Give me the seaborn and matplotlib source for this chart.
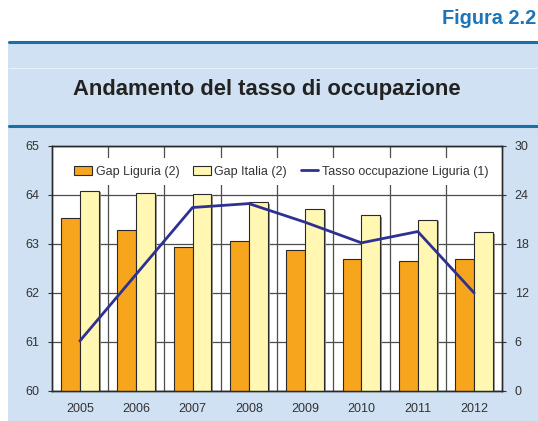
import numpy as np
import pandas as pd
import seaborn as sns
import matplotlib.pyplot as plt
import matplotlib.patheffects as pe
from matplotlib.patches import Patch, Rectangle
from matplotlib.lines import Line2D

anni = ["2005", "2006", "2007", "2008", "2009", "2010", "2011", "2012"]
gap_liguria = [21.2, 19.7, 17.6, 18.3, 17.3, 16.1, 15.9, 16.2]
gap_italia = [24.5, 24.2, 24.1, 23.1, 22.3, 21.5, 20.9, 19.4]
tasso_liguria = [61.02, 62.38, 63.74, 63.82, 63.44, 63.02, 63.25, 62.0]

serie = ["Gap Liguria (2)", "Gap Italia (2)"]
lbl_linea = "Tasso occupazione Liguria (1)"

ORANGE = "#F7A51D"
YELLOW = "#FFF7B2"
NAVY = "#2E3192"
BAND = "#CFE1F2"
DARKBLUE = "#1B6FA8"
GRID = "#4d4d4d"

sns.set_style("white")
plt.rcParams["font.family"] = ["Liberation Sans", "DejaVu Sans"]
plt.rcParams["text.color"] = "#222222"

df = pd.DataFrame({
    "anno": anni * 2,
    "valore": gap_liguria + gap_italia,
    "serie": [serie[0]] * len(anni) + [serie[1]] * len(anni),
})

fig = plt.figure(figsize=(5.38, 4.21), dpi=100)

# header / background
fig.patches.append(Rectangle((8 / 538, 0), 1, 0.900, transform=fig.transFigure,
                             facecolor=BAND, edgecolor="none", zorder=-10))
fig.add_artist(Line2D([9 / 538, 1], [0.900, 0.900], color=DARKBLUE, lw=2.2))
fig.add_artist(Line2D([9 / 538, 1], [0.838, 0.838], color="#e8f0f8", lw=0.8))
fig.add_artist(Line2D([9 / 538, 1], [0.7007, 0.7007], color=DARKBLUE, lw=2.2))
fig.text(0.997, 0.957, "Figura 2.2", ha="right", va="center", fontsize=14.3,
         fontweight="bold", color="#1C75B9")
fig.text(0.496, 0.788, "Andamento del tasso di occupazione", ha="center",
         va="center", fontsize=15.8, fontweight="bold", color="#222222")

ax = fig.add_axes([0.0961, 0.0713, 0.8375, 0.5826])
ax.set_facecolor("white")

# bars on the right scale (0-30)
sns.barplot(data=df, x="anno", y="valore", hue="serie", palette=[ORANGE, YELLOW],
            saturation=1, width=0.67, edgecolor="#2a2a2a", linewidth=0.8,
            legend=False, ax=ax, zorder=3)
for p in ax.patches:
    p.set_path_effects([pe.SimplePatchShadow(offset=(1.4, -1.0),
                                             shadow_rgbFace="#888888", alpha=0.9),
                        pe.Normal()])

# line on the left scale (60-65)
ax2 = ax.twinx()
sns.lineplot(x=np.arange(len(anni)), y=tasso_liguria, color=NAVY, lw=2,
             ax=ax2, zorder=5)

ax.set_ylim(0, 30)
ax.set_yticks(np.arange(0, 31, 6))
ax.yaxis.set_ticks_position("right")
ax.yaxis.set_label_position("right")
ax.set_xlim(-0.5, 7.5)
ax.set_xticks(np.arange(0.5, 7, 1), minor=True)
ax.set_axisbelow(True)
ax.grid(axis="y", which="major", color=GRID, lw=0.9)
ax.grid(axis="x", which="minor", color=GRID, lw=0.9)
ax.grid(axis="x", which="major", visible=False)
ax.set_xlabel("")
ax.set_ylabel("")
ax.tick_params(axis="x", which="both", length=0, pad=9, labelsize=9, labelcolor="#333333")
ax.tick_params(axis="y", length=3, pad=6, labelsize=9, labelcolor="#333333",
               color="#333333", left=False, labelleft=False,
               right=True, labelright=True)

ax2.set_ylim(60, 65)
ax2.set_yticks(np.arange(60, 66, 1))
ax2.yaxis.set_ticks_position("left")
ax2.set_xlim(-0.5, 7.5)
ax2.set_ylabel("")
ax2.tick_params(axis="y", length=3, pad=6, labelsize=9, labelcolor="#333333",
                color="#333333", left=True, labelleft=True,
                right=False, labelright=False)

for a in (ax, ax2):
    for s in a.spines.values():
        s.set_color("#2a2a2a")
        s.set_linewidth(1.0)

handles = [
    Patch(facecolor=ORANGE, edgecolor="#2a2a2a", lw=0.8, label=serie[0]),
    Patch(facecolor=YELLOW, edgecolor="#2a2a2a", lw=0.8, label=serie[1]),
    Line2D([0], [0], color=NAVY, lw=2, label=lbl_linea),
]
leg = ax2.legend(handles=handles, loc="upper center", bbox_to_anchor=(0.51, 0.975),
                 ncol=3, frameon=True, fontsize=9, handlelength=1.4,
                 handleheight=0.75, handletextpad=0.3, columnspacing=1.1,
                 borderpad=0.6, fancybox=False)
leg.get_frame().set_facecolor("white")
leg.get_frame().set_edgecolor("none")
leg.get_frame().set_alpha(1)
for t in leg.get_texts():
    t.set_color("#333333")

fig.savefig("out.png", dpi=100)
